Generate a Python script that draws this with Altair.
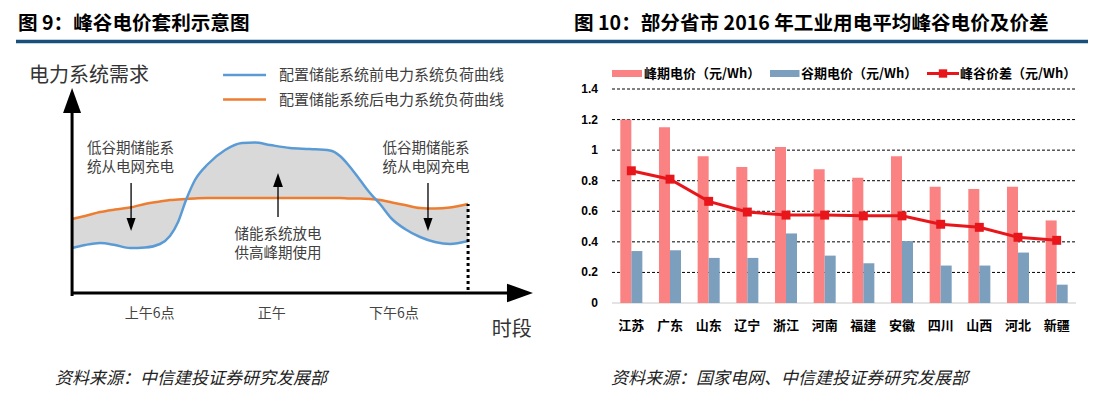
import altair as alt
import pandas as pd

FONT = "Noto Sans CJK SC"
NUMFONT = "Liberation Sans"

# ---------------- Figure 9: schematic ----------------
hours = [2.19, 2.83, 3.56, 4.30, 5.04, 5.77, 6.51, 7.00, 7.40, 7.79, 8.23, 8.87, 9.71, 10.54, 11.18,
         11.92, 12.90, 13.88, 14.86, 15.36, 15.85, 16.34, 16.83, 17.32, 17.91, 18.55, 19.29, 20.02, 20.76, 21.65]
load_before = [22.5, 24, 25, 24, 22.5, 22.75, 24.5, 28.5, 35.5, 46.5, 56.5, 64.5, 71.5, 75, 75.25,
               74, 72.5, 72, 71.25, 68.5, 63, 56.5, 50, 44.5, 37, 32, 28, 25.5, 24.5, 26]
load_after = [37, 38.5, 40.5, 41.75, 42.75, 44.5, 45.75, 46.5, 46.75, 47, 47.25, 47.5, 47.5, 47.5, 47.5,
              47.5, 47.5, 47.5, 47.5, 47.5, 47.25, 47.25, 47, 46.5, 45.25, 44, 42.5, 42.25, 42.75, 44.5]
tick_hours = [6, 12, 18]
tick_labels = ["上午6点", "正午", "下午6点"]
legend9_labels = ["配置储能系统前电力系统负荷曲线", "配置储能系统后电力系统负荷曲线"]
legend9_levels = [109, 96.75]
note_text = ["低谷期储能系", "统从电网充电", "低谷期储能系", "统从电网充电", "储能系统放电", "供高峰期使用"]
note_hour = [5.06, 5.06, 19.58, 19.58, 12.31, 12.31]
note_level = [71.9, 62.3, 71.9, 62.3, 29.25, 19.75]
arrow_hour = [5.09, 19.68, 12.31]
arrow_from = [55, 55, 54]
arrow_to = [36, 36, 38]
head_hour = [2.19, 24.20, 5.09, 19.68, 12.31]
head_level = [96.25, 0, 34.25, 34.25, 56.5]
head_shape = ["M0,-1L0.72,1L-0.72,1Z", "M1,0L-1,0.72L-1,-0.72Z",
              "M0,1L0.7,-1L-0.7,-1Z", "M0,1L0.7,-1L-0.7,-1Z", "M0,-1L0.7,1L-0.7,1Z"]
head_size = [625, 676, 169, 169, 196]

# ---------------- Figure 10: prices ----------------
provinces = ["江苏", "广东", "山东", "辽宁", "浙江", "河南", "福建", "安徽", "四川", "山西", "河北", "新疆"]
peak_price = [1.20, 1.15, 0.96, 0.89, 1.02, 0.875, 0.82, 0.96, 0.76, 0.745, 0.76, 0.54]
valley_price = [0.34, 0.345, 0.295, 0.295, 0.455, 0.31, 0.26, 0.405, 0.245, 0.245, 0.33, 0.12]
peak_valley_gap = [0.865, 0.81, 0.665, 0.595, 0.575, 0.575, 0.57, 0.57, 0.515, 0.495, 0.43, 0.41]
y_ticks = [0, 0.2, 0.4, 0.6, 0.8, 1.0, 1.2, 1.4]
y_tick_labels = ["0", "0.2", "0.4", "0.6", "0.8", "1", "1.2", "1.4"]
series_names = ["峰期电价（元/Wh）", "谷期电价（元/Wh）", "峰谷价差（元/Wh）"]

titles = ["图 9：峰谷电价套利示意图", "图 10：部分省市 2016 年工业用电平均峰谷电价及价差"]
sources = ["资料来源：中信建投证券研究发展部", "资料来源：国家电网、中信建投证券研究发展部"]

BLUE9 = "#5B9BD5"
ORANGE9 = "#ED7D31"
PINK = "#FA8282"
GREYBLUE = "#7D9FBE"
RED = "#E8161B"
NAVY = "#17507A"

HX = alt.Scale(domain=[0, 24], range=[19.5, 507.9], nice=False, zero=False)
HY = alt.Scale(domain=[0, 100], range=[285, 85], nice=False, zero=False)
PX = alt.Scale(domain=provinces, range=[604, 1068], paddingInner=0.43, paddingOuter=0.215)
PY = alt.Scale(domain=[0, 1.4], range=[295, 81], nice=False)
LX = alt.Scale(domain=[0, 1080], range=[0, 1080], nice=False)

layers = []

# ---- header ----
title_df = pd.DataFrame({"t": titles, "px": [10, 566]})
layers.append(alt.Chart(title_df).mark_text(align="left", baseline="middle", font=FONT, fontSize=19.6,
                                            fontWeight="bold", color="black").encode(
    x=alt.X("px:Q", scale=LX, axis=None), y=alt.value(16), text="t:N"))
layers.append(alt.Chart(pd.DataFrame({"a": [0]})).mark_rule(color=NAVY, strokeWidth=3.5).encode(
    x=alt.value(8), x2=alt.value(1080), y=alt.value(33.5)))

src_df = pd.DataFrame({"t": sources, "px": [47, 603]})
layers.append(alt.Chart(src_df).mark_text(align="left", baseline="middle", font=FONT, fontSize=17,
                                          fontStyle="italic", color="#222222").encode(
    x=alt.X("px:Q", scale=LX, axis=None), y=alt.value(371), text="t:N"))

# ---- Figure 9 ----
curve_df = pd.DataFrame({"h": hours, "before": load_before, "after": load_after})
layers.append(alt.Chart(curve_df).mark_area(color="#D9D9D9", interpolate="monotone", opacity=1).encode(
    x=alt.X("h:Q", scale=HX, axis=None),
    y=alt.Y("before:Q", scale=HY, axis=None), y2="after:Q"))
layers.append(alt.Chart(curve_df).mark_line(color=ORANGE9, strokeWidth=2.5, interpolate="monotone").encode(
    x=alt.X("h:Q", scale=HX, axis=None), y=alt.Y("after:Q", scale=HY, axis=None)))
layers.append(alt.Chart(curve_df).mark_line(color=BLUE9, strokeWidth=2.5, interpolate="monotone").encode(
    x=alt.X("h:Q", scale=HX, axis=None), y=alt.Y("before:Q", scale=HY, axis=None)))

# axes of schematic
layers.append(alt.Chart(pd.DataFrame({"h": [2.19], "d0": [-1.5], "d1": [94]})).mark_rule(
    color="black", strokeWidth=3).encode(
    x=alt.X("h:Q", scale=HX, axis=None), y=alt.Y("d0:Q", scale=HY, axis=None), y2="d1:Q"))
layers.append(alt.Chart(pd.DataFrame({"d": [0], "h0": [2.19], "h1": [23.71]})).mark_rule(
    color="black", strokeWidth=3).encode(
    y=alt.Y("d:Q", scale=HY, axis=None), x=alt.X("h0:Q", scale=HX, axis=None), x2="h1:Q"))
layers.append(alt.Chart(pd.DataFrame({"h": [21.65], "d0": [1.5], "d1": [44.5]})).mark_rule(
    color="black", strokeWidth=3, strokeDash=[3, 3]).encode(
    x=alt.X("h:Q", scale=HX, axis=None), y=alt.Y("d0:Q", scale=HY, axis=None), y2="d1:Q"))
arrow_df = pd.DataFrame({"h": arrow_hour, "d0": arrow_from, "d1": arrow_to})
layers.append(alt.Chart(arrow_df).mark_rule(color="black", strokeWidth=1.3).encode(
    x=alt.X("h:Q", scale=HX, axis=None), y=alt.Y("d0:Q", scale=HY, axis=None), y2="d1:Q"))
head_df = pd.DataFrame({"h": head_hour, "d": head_level, "s": head_shape, "z": head_size})
layers.append(alt.Chart(head_df).mark_point(filled=True, color="black", opacity=1, strokeWidth=0).encode(
    x=alt.X("h:Q", scale=HX, axis=None), y=alt.Y("d:Q", scale=HY, axis=None),
    shape=alt.Shape("s:N", scale=None), size=alt.Size("z:Q", scale=None)))

# texts of schematic
layers.append(alt.Chart(pd.DataFrame({"t": ["电力系统需求"], "h": [0.07], "d": [108.5]})).mark_text(
    align="left", baseline="middle", font=FONT, fontSize=20, color="#333333").encode(
    x=alt.X("h:Q", scale=HX, axis=None), y=alt.Y("d:Q", scale=HY, axis=None), text="t:N"))
layers.append(alt.Chart(pd.DataFrame({"t": ["时段"], "h": [23.8], "d": [-18.5]})).mark_text(
    align="center", baseline="middle", font=FONT, fontSize=20, color="#333333").encode(
    x=alt.X("h:Q", scale=HX, axis=None), y=alt.Y("d:Q", scale=HY, axis=None), text="t:N"))
layers.append(alt.Chart(pd.DataFrame({"t": tick_labels, "h": tick_hours, "d": [-10.5] * 3})).mark_text(
    align="center", baseline="middle", font=FONT, fontSize=14, color="#444444").encode(
    x=alt.X("h:Q", scale=HX, axis=None), y=alt.Y("d:Q", scale=HY, axis=None), text="t:N"))
layers.append(alt.Chart(pd.DataFrame({"t": note_text, "h": note_hour, "d": note_level})).mark_text(
    align="center", baseline="middle", font=FONT, fontSize=14.5, color="#404040").encode(
    x=alt.X("h:Q", scale=HX, axis=None), y=alt.Y("d:Q", scale=HY, axis=None), text="t:N"))
leg9_df = pd.DataFrame({"t": legend9_labels, "d": legend9_levels, "h0": [9.61, 9.61], "h1": [11.72, 11.72],
                        "ht": [12.36, 12.36], "c": [BLUE9, ORANGE9]})
layers.append(alt.Chart(leg9_df).mark_rule(strokeWidth=2.5).encode(
    x=alt.X("h0:Q", scale=HX, axis=None), x2="h1:Q", y=alt.Y("d:Q", scale=HY, axis=None),
    color=alt.Color("c:N", scale=None)))
layers.append(alt.Chart(leg9_df).mark_text(align="left", baseline="middle", font=FONT, fontSize=15,
                                           color="#404040").encode(
    x=alt.X("ht:Q", scale=HX, axis=None), y=alt.Y("d:Q", scale=HY, axis=None), text="t:N"))

# ---- Figure 10 ----
grid_df = pd.DataFrame({"v": y_ticks, "lab": y_tick_labels})
layers.append(alt.Chart(grid_df[grid_df.v > 0]).mark_rule(color="black", strokeWidth=1, strokeDash=[3, 2]).encode(
    y=alt.Y("v:Q", scale=PY, axis=None), x=alt.value(604), x2=alt.value(1068)))
layers.append(alt.Chart(grid_df[grid_df.v == 0]).mark_rule(color="#C8C8C8", strokeWidth=1).encode(
    y=alt.Y("v:Q", scale=PY, axis=None), x=alt.value(604), x2=alt.value(1068)))
layers.append(alt.Chart(grid_df).mark_text(align="right", baseline="middle", font=NUMFONT, fontSize=12,
                                           fontWeight="bold", color="black").encode(
    y=alt.Y("v:Q", scale=PY, axis=None), x=alt.value(590), text="lab:N"))

bar_df = pd.DataFrame({"prov": provinces * 2,
                       "series": [series_names[0]] * len(provinces) + [series_names[1]] * len(provinces),
                       "value": peak_price + valley_price})
layers.append(alt.Chart(bar_df).mark_bar().encode(
    x=alt.X("prov:N", scale=PX, axis=None),
    xOffset=alt.XOffset("series:N", scale=alt.Scale(domain=series_names[:2], paddingInner=0, paddingOuter=0)),
    y=alt.Y("value:Q", scale=PY, axis=None),
    color=alt.Color("series:N", scale=alt.Scale(domain=series_names[:2], range=[PINK, GREYBLUE]), legend=None)))

line_df = pd.DataFrame({"prov": provinces, "gap": peak_valley_gap})
layers.append(alt.Chart(line_df).mark_line(color=RED, strokeWidth=3).encode(
    x=alt.X("prov:N", scale=PX, axis=None, sort=provinces), y=alt.Y("gap:Q", scale=PY, axis=None)))
layers.append(alt.Chart(line_df).mark_square(color=RED, size=80, opacity=1).encode(
    x=alt.X("prov:N", scale=PX, axis=None), y=alt.Y("gap:Q", scale=PY, axis=None)))

layers.append(alt.Chart(pd.DataFrame({"prov": provinces})).mark_text(
    align="center", baseline="middle", font=FONT, fontSize=13, fontWeight="bold", color="black").encode(
    x=alt.X("prov:N", scale=PX, axis=None), y=alt.value(318), text="prov:N"))

# legend of figure 10
leg10_df = pd.DataFrame({"t": series_names, "x0": [604, 762, 919], "x1": [634, 791.5, 951],
                         "xt": [636, 793, 952], "c": [PINK, GREYBLUE, RED], "w": [7, 7, 3]})
layers.append(alt.Chart(leg10_df).mark_rule().encode(
    x=alt.X("x0:Q", scale=LX, axis=None), x2="x1:Q", y=alt.value(65.5),
    color=alt.Color("c:N", scale=None), strokeWidth=alt.StrokeWidth("w:Q", scale=None)))
layers.append(alt.Chart(pd.DataFrame({"x": [935]})).mark_square(color=RED, size=70, opacity=1).encode(
    x=alt.X("x:Q", scale=LX, axis=None), y=alt.value(65.5)))
layers.append(alt.Chart(leg10_df).mark_text(align="left", baseline="middle", font=FONT, fontSize=13,
                                            fontWeight="bold", color="black").encode(
    x=alt.X("xt:Q", scale=LX, axis=None), y=alt.value(65.5), text="t:N"))

chart = alt.layer(*layers).resolve_scale(
    x="independent", y="independent", color="independent", size="independent",
    shape="independent", strokeWidth="independent"
).properties(
    width=1080, height=381, padding=0,
    autosize=alt.AutoSizeParams(type="none"),
    background="white"
).configure_view(stroke=None)

chart.save("out.html", embed_options={"renderer": "svg", "actions": False})
